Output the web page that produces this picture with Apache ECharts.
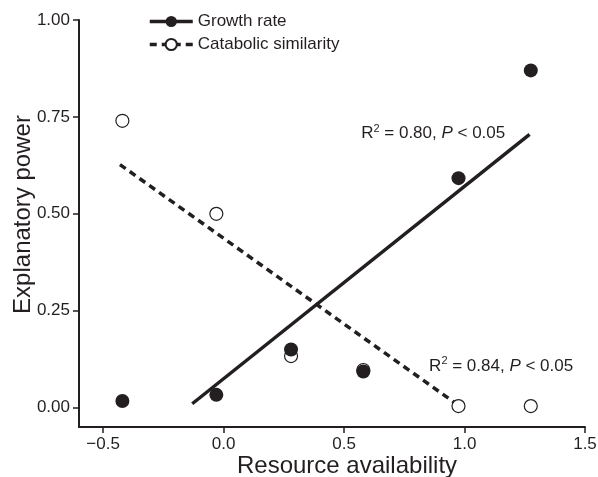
<!DOCTYPE html>
<html>
<head>
<meta charset="utf-8">
<script src="https://cdn.jsdelivr.net/npm/echarts@6/dist/echarts.min.js"></script>
<style>html,body{margin:0;padding:0;background:#fff;}#c{width:598px;height:477px;}</style>
</head>
<body>
<div id="c"></div>
<script>
const xTicks = [-0.5, 0.0, 0.5, 1.0, 1.5];
const yTicks = [0.0, 0.25, 0.5, 0.75, 1.0];
const resource = [-0.42, -0.03, 0.28, 0.58, 0.975, 1.275];
const growthRate = [0.017, 0.033, 0.150, 0.093, 0.592, 0.870];
const catabolicSimilarity = [0.740, 0.500, 0.133, 0.097, 0.004, 0.004];
const growthFitX = [-0.13, 1.27];
const growthFitY = [0.010, 0.705];
const catabolicFitX = [-0.43, 0.97];
const catabolicFitY = [0.627, 0.008];
const seriesNames = ['Growth rate', 'Catabolic similarity'];
const annotations = [
  {x: 0.571, y: 0.708, r2: '0.80', p: '0.05'},
  {x: 0.853, y: 0.1075, r2: '0.84', p: '0.05'}
];

const ink = '#231f20';
const font = 'Liberation Sans, Arial, Helvetica, sans-serif';
const zip = (xs, ys) => xs.map((x, i) => [x, ys[i]]);
const fmtX = v => (v < 0 ? '\u2212' : '') + Math.abs(v).toFixed(1);

const chart = echarts.init(document.getElementById('c'), null, {renderer: 'canvas'});
chart.setOption({
  animation: false,
  backgroundColor: '#fff',
  textStyle: {fontFamily: font},
  grid: {left: 79, right: 13, top: 20, bottom: 50, containLabel: false, outerBoundsMode: 'none'},
  legend: {
    data: seriesNames,
    orient: 'vertical',
    left: 143, top: 8,
    itemWidth: 43, itemHeight: 14, itemGap: 6,
    textStyle: {fontSize: 17, color: ink, fontFamily: font},
    lineStyle: {width: 3.5},
    selectedMode: false
  },
  xAxis: {
    type: 'value', min: -0.6, max: 1.5,
    name: 'Resource availability', nameLocation: 'middle', nameGap: 27, nameMoveOverlap: false,
    nameTextStyle: {fontSize: 24, color: ink, fontFamily: font, padding: [0, 0, 0, 30]},
    axisLine: {show: true, onZero: false, lineStyle: {color: ink, width: 2}},
    axisTick: {show: true, length: 6, lineStyle: {color: ink, width: 1.5}, customValues: xTicks},
    axisLabel: {fontSize: 17, color: ink, margin: 9, customValues: xTicks, formatter: fmtX},
    splitLine: {show: false}
  },
  yAxis: {
    type: 'value', min: -0.05, max: 1.0,
    name: 'Explanatory power', nameLocation: 'middle', nameGap: 44, nameMoveOverlap: false,
    nameTextStyle: {fontSize: 24, color: ink, fontFamily: font, padding: [0, 0, 0, 18]},
    axisLine: {show: true, onZero: false, lineStyle: {color: ink, width: 2}},
    axisTick: {show: true, length: 6, lineStyle: {color: ink, width: 1.5}, customValues: yTicks},
    axisLabel: {fontSize: 17, color: ink, margin: 9, customValues: yTicks, formatter: v => v.toFixed(2)},
    splitLine: {show: false}
  },
  series: [
    {
      name: seriesNames[0], type: 'line', data: zip(growthFitX, growthFitY),
      symbol: 'circle', symbolSize: 14, showSymbol: false, silent: true,
      lineStyle: {color: ink, width: 3.5, type: 'solid'},
      itemStyle: {color: ink}, z: 2
    },
    {
      name: seriesNames[1], type: 'line', data: zip(catabolicFitX, catabolicFitY),
      symbol: 'circle', symbolSize: 13, showSymbol: false, silent: true,
      lineStyle: {color: ink, width: 3.5, type: [7, 5]},
      itemStyle: {color: '#fff', borderColor: ink, borderWidth: 1.2}, z: 2
    },
    {
      name: 'catabolic points', type: 'scatter', data: zip(resource, catabolicSimilarity),
      symbol: 'circle', symbolSize: 13, silent: true,
      itemStyle: {color: '#fff', borderColor: ink, borderWidth: 1.2, opacity: 1}, z: 3
    },
    {
      name: 'growth points', type: 'scatter', data: zip(resource, growthRate),
      symbol: 'circle', symbolSize: 14, silent: true,
      itemStyle: {color: ink, opacity: 1}, z: 4
    },
    {
      name: 'annotations', type: 'scatter', silent: true, z: 5,
      data: annotations.map(a => ({value: [a.x, a.y], r2: a.r2, p: a.p})),
      symbolSize: 1, itemStyle: {color: 'rgba(0,0,0,0)', opacity: 1},
      label: {
        show: true, position: 'inside', align: 'left', verticalAlign: 'middle',
        color: ink, textBorderWidth: 0,
        formatter: p => '{a|R}{s|2}{a| = ' + p.data.r2 + ', }{i|P}{a| < ' + p.data.p + '}',
        rich: {
          a: {fontSize: 17, color: ink, fontFamily: font, lineHeight: 20, textBorderWidth: 0},
          s: {fontSize: 11, color: ink, fontFamily: font, lineHeight: 20, verticalAlign: 'top', padding: [0, 0, 5, 0], textBorderWidth: 0},
          i: {fontSize: 17, color: ink, fontFamily: font, fontStyle: 'italic', lineHeight: 20, textBorderWidth: 0}
        }
      }
    }
  ]
});
</script>
</body>
</html>
